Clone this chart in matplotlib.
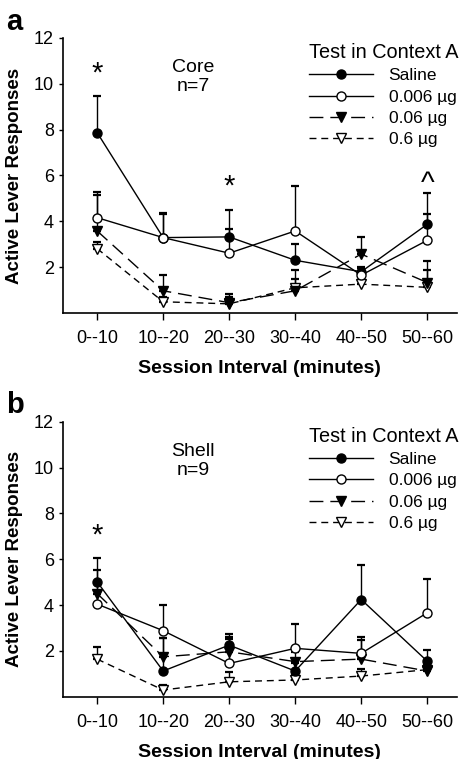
import numpy as np
import matplotlib
matplotlib.use("Agg")
from matplotlib import pyplot as plt

plt.rcParams["font.family"] = ["Liberation Sans", "DejaVu Sans"]

intervals = ["0--10", "10--20", "20--30", "30--40", "40--50", "50--60"]
groups = ["Saline", "0.006 µg", "0.06 µg", "0.6 µg"]

# panel a, core (means and upper SEM)
core_saline = [7.87, 3.29, 3.32, 2.30, 1.80, 3.87]
core_saline_sem = [1.58, 1.06, 1.17, 0.70, 0.20, 1.38]
core_006 = [4.16, 3.29, 2.61, 3.58, 1.65, 3.17]
core_006_sem = [1.11, 1.01, 1.07, 1.95, 0.30, 1.13]
core_06 = [3.58, 0.97, 0.45, 0.97, 2.57, 1.33]
core_06_sem = [1.59, 0.70, 0.38, 0.91, 0.75, 0.94]
core_6 = [2.81, 0.49, 0.40, 1.10, 1.26, 1.12]
core_6_sem = [0.30, 0.20, 0.30, 0.40, 0.30, 0.75]

# panel b, shell
shell_saline = [5.01, 1.12, 2.25, 1.12, 4.24, 1.55]
shell_saline_sem = [1.04, 1.45, 0.47, 0.35, 1.50, 0.48]
shell_006 = [4.04, 2.88, 1.45, 2.11, 1.89, 3.66]
shell_006_sem = [0.90, 1.12, 1.05, 1.06, 0.73, 1.46]
shell_06 = [4.50, 1.74, 1.96, 1.53, 1.64, 1.12]
shell_06_sem = [1.02, 0.83, 0.66, 0.40, 0.83, 0.45]
shell_6 = [1.64, 0.29, 0.65, 0.73, 0.90, 1.18]
shell_6_sem = [0.51, 0.20, 0.44, 0.20, 0.30, 0.25]

# (x index, y, symbol)
core_marks = [(0, 10.45, "*"), (2, 5.5, "*"), (5, 5.65, "^")]
shell_marks = [(0, 7.05, "*")]

styles = {
    "Saline": dict(marker="o", mfc="black", ls="-", ms=6.5),
    "0.006 µg": dict(marker="o", mfc="white", ls="-", ms=6.5),
    "0.06 µg": dict(marker="v", mfc="black", ls=(0, (10, 5)), ms=7),
    "0.6 µg": dict(marker="v", mfc="white", ls=(0, (5, 3.5)), ms=7),
}

fig = plt.figure(figsize=(4.62, 7.59), dpi=100)


def panel(rect, means, sems, title, marks, letter, letter_y):
    ax = fig.add_axes(rect)
    x = np.arange(len(intervals))
    handles = {}
    # draw order: 0.6, 0.06, saline, 0.006
    for name in ["0.6 µg", "0.06 µg", "Saline", "0.006 µg"]:
        m = np.array(means[name])
        s = np.array(sems[name])
        ax.errorbar(x, m, yerr=[np.zeros_like(s), s], fmt="none", ecolor="black",
                    elinewidth=1.0, capsize=2.6, capthick=1.6, zorder=2)
        st = styles[name]
        ln, = ax.plot(x, m, color="black", lw=1.0, ls=st["ls"], marker=st["marker"],
                      ms=st["ms"], mfc=st["mfc"], mec="black", mew=1.0, zorder=3)
        handles[name] = ln
    ax.set_xlim(-0.52, 5.45)
    ax.set_ylim(0, 12)
    ax.set_yticks([2, 4, 6, 8, 10, 12])
    ax.set_xticks(x)
    ax.set_xticklabels(intervals)
    ax.spines["top"].set_visible(False)
    ax.spines["right"].set_visible(False)
    for sp in ["left", "bottom"]:
        ax.spines[sp].set_linewidth(1.2)
    ax.tick_params(axis="x", direction="out", length=5, width=1.0, pad=7.5, labelsize=13)
    ax.tick_params(axis="y", direction="out", length=3, width=1.0, pad=3.5, labelsize=13)
    ax.set_ylabel("Active Lever Responses", fontsize=13.5, fontweight="bold", labelpad=8)
    ax.set_xlabel("Session Interval (minutes)", fontsize=14, fontweight="bold", labelpad=9)
    ax.text(1.45, 10.3, title, ha="center", va="center", fontsize=14, linespacing=1.15)
    for xi, yi, sym in marks:
        ax.text(xi, yi, sym, ha="center", va="center", fontsize=21)
    ax.legend([handles[g] for g in groups], groups, title="Test in Context A",
              loc="upper right", bbox_to_anchor=(1.03, 1.02), frameon=False,
              fontsize=12.5, title_fontsize=14.3, handlelength=3.7,
              handletextpad=0.9, labelspacing=0.36, borderaxespad=0.2,
              alignment="left")
    fig.text(0.014, letter_y, letter, fontsize=21, fontweight="bold", va="center")
    return ax


panel([0.136, 0.5876, 0.853, 0.3624],
      {"Saline": core_saline, "0.006 µg": core_006, "0.06 µg": core_06, "0.6 µg": core_6},
      {"Saline": core_saline_sem, "0.006 µg": core_006_sem, "0.06 µg": core_06_sem, "0.6 µg": core_6_sem},
      "Core\nn=7", core_marks, "a", 1 - 22 / 759)
panel([0.136, 0.0821, 0.853, 0.3623],
      {"Saline": shell_saline, "0.006 µg": shell_006, "0.06 µg": shell_06, "0.6 µg": shell_6},
      {"Saline": shell_saline_sem, "0.006 µg": shell_006_sem, "0.06 µg": shell_06_sem, "0.6 µg": shell_6_sem},
      "Shell\nn=9", shell_marks, "b", 1 - 405 / 759)

fig.savefig("out.png", dpi=100)
